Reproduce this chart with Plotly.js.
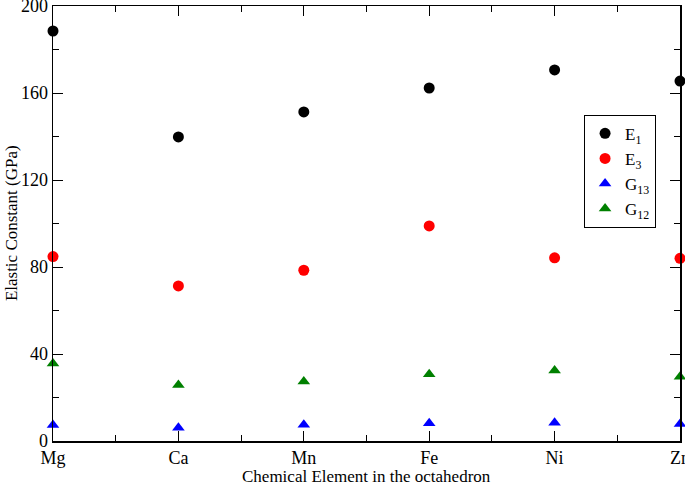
<!DOCTYPE html>
<html><head><meta charset="utf-8">
<script src="https://cdn.plot.ly/plotly-3.0.1.min.js"></script>
<style>html,body{margin:0;padding:0;background:#fff}</style>
</head><body>
<div id="chart" style="width:685px;height:482px"></div>
<script>
const elements = ["Mg","Ca","Mn","Fe","Ni","Zn"];
const E1  = [188.5, 139.8, 151.3, 162.3, 170.6, 165.5];
const E3  = [84.8, 71.3, 78.5, 98.9, 84.2, 84.0];
const G13 = [7.3, 6.1, 7.5, 8.2, 8.4, 7.8];
const G12 = [35.6, 25.8, 27.3, 30.7, 32.4, 29.5];
const yTicks = [0, 40, 80, 120, 160, 200];
const xTitle = "Chemical Element in the octahedron";
const yTitle = "Elastic Constant (GPa)";

const xIdx = elements.map((_, i) => i);
const font = {family: "Liberation Serif, Times New Roman, serif", color: "#000"};

function series(name, y, color, symbol) {
  return {x: xIdx, y: y, name: name, type: "scatter", mode: "markers",
    cliponaxis: false,
    marker: {color: color, symbol: symbol, size: 11, line: {width: 0}}};
}

const data = [
  series("E<sub>1</sub>", E1, "#000000", "circle"),
  series("E<sub>3</sub>", E3, "#ff0000", "circle"),
  series("G<sub>13</sub>", G13, "#0000ff", "triangle-up"),
  series("G<sub>12</sub>", G12, "#008000", "triangle-up")
];

const layout = {
  width: 685, height: 482,
  margin: {l: 53, r: 5, t: 6, b: 41},
  paper_bgcolor: "#fff", plot_bgcolor: "#fff",
  font: Object.assign({size: 16}, font),
  showlegend: true,
  legend: {x: 0.847, y: 0.75, xanchor: "left", yanchor: "top",
    bordercolor: "#000", borderwidth: 1, bgcolor: "#fff",
    font: Object.assign({size: 17}, font), itemwidth: 30, tracegroupgap: 0},
  xaxis: {
    range: [0, 5], tickvals: xIdx, ticktext: elements,
    showgrid: false, zeroline: false, ticklabeloverflow: "allow",
    showline: true, linecolor: "#000", linewidth: 1.5, mirror: "allticks",
    ticks: "inside", ticklen: 10, tickwidth: 1, tickcolor: "#000",
    tickfont: Object.assign({size: 18}, font),
    minor: {dtick: 0.5, ticks: "inside", ticklen: 6, tickwidth: 1, tickcolor: "#000", showgrid: false}
  },
  yaxis: {
    range: [0, 200], tickvals: yTicks,
    showgrid: false, zeroline: false, ticklabeloverflow: "allow",
    showline: true, linecolor: "#000", linewidth: 1.5, mirror: "allticks",
    ticks: "inside", ticklen: 10, tickwidth: 1, tickcolor: "#000",
    tickfont: Object.assign({size: 18}, font),
    minor: {dtick: 20, ticks: "inside", ticklen: 6, tickwidth: 1, tickcolor: "#000", showgrid: false}
  },
  annotations: [
    {text: xTitle, xref: "paper", yref: "paper", x: 0.5, y: -0.082,
     xanchor: "center", yanchor: "middle", showarrow: false,
     font: Object.assign({size: 17}, font)},
    {text: yTitle, xref: "paper", yref: "paper", x: -0.066, y: 0.5,
     xanchor: "center", yanchor: "middle", showarrow: false, textangle: -90,
     font: Object.assign({size: 17}, font)}
  ]
};

Plotly.newPlot("chart", data, layout, {displayModeBar: false, staticPlot: true});
</script>
</body></html>
